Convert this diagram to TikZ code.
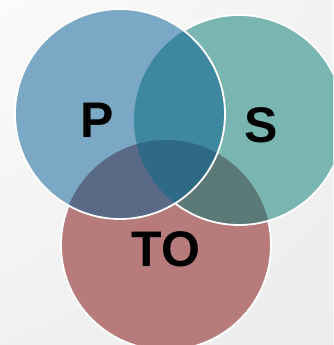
\documentclass[tikz,border=0pt]{standalone}
\usepackage{fontspec}
\setmainfont{Liberation Sans}
\usetikzlibrary{shadings}

\definecolor{pcol}{HTML}{7BA8C4}
\definecolor{scol}{HTML}{79B5B1}
\definecolor{tcol}{HTML}{B77B7B}
\definecolor{pscol}{HTML}{3D879F}
\definecolor{ptcol}{HTML}{5A6A86}
\definecolor{stcol}{HTML}{5B7A77}
\definecolor{pstcol}{HTML}{2E6A86}
\definecolor{bglight}{HTML}{FBFBFB}
\definecolor{bgdark}{HTML}{ECECEC}

\begin{document}
\begin{tikzpicture}[
  x=1pt, y=-1pt,
  ring/.style={draw=white, line width=1.8pt},
  tag/.style={font=\fontsize{50}{50}\selectfont\bfseries, text=black, inner sep=0pt}
]
\useasboundingbox (0,0) rectangle (333,345);
\clip (0,0) rectangle (333,345);
\shade[upper left=bglight, upper right=bgdark!60!bglight,
       lower left=bgdark!70!bglight, lower right=bgdark]
  (0,0) rectangle (333,345);

\coordinate (cP) at (120,114);
\coordinate (cS) at (239,120);
\coordinate (cT) at (166,245);

% bottom circle first
\fill[tcol] (cT) circle (105pt);
\draw[ring] (cT) circle (105pt);

% right circle and its overlap with the bottom one
\fill[scol] (cS) circle (105pt);
\begin{scope}
  \clip (cS) circle (105pt);
  \fill[stcol] (cT) circle (105pt);
\end{scope}
\draw[ring] (cS) circle (105pt);

% left circle on top
\fill[pcol] (cP) circle (105pt);
\begin{scope}
  \clip (cP) circle (105pt);
  \fill[pscol] (cS) circle (105pt);
  \fill[ptcol] (cT) circle (105pt);
  \clip (cS) circle (105pt);
  \fill[pstcol] (cT) circle (105pt);
\end{scope}
\draw[ring] (cP) circle (105pt);

\node[tag] (p) at (97,120) {P};
\node[tag] (s) at (261,125) {S};
\node[tag] (to) at (166,249) {TO};
\end{tikzpicture}
\end{document}
